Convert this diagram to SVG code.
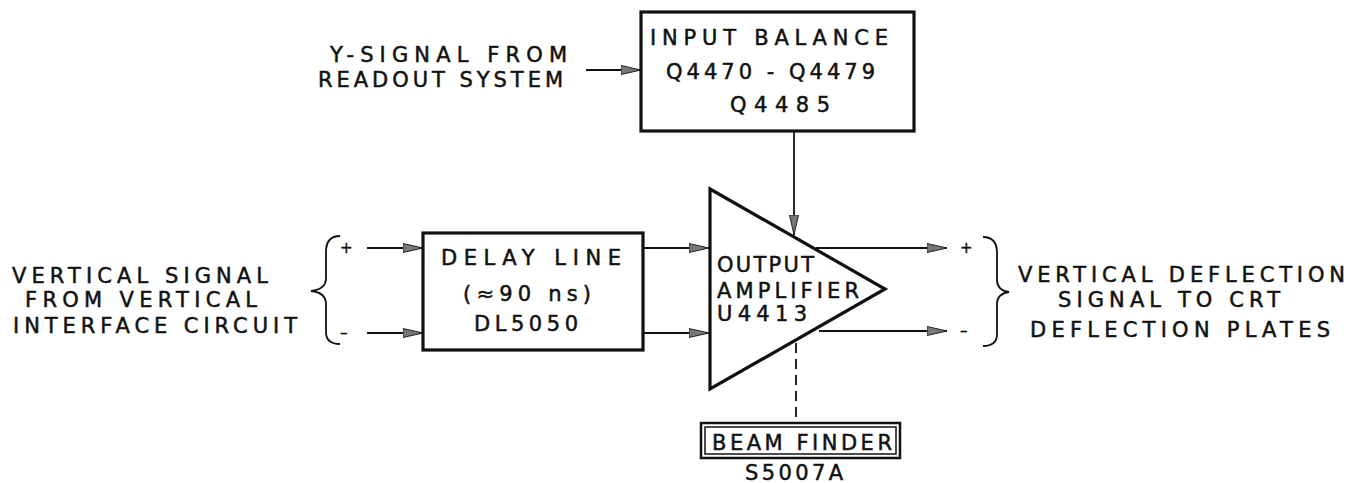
<svg xmlns="http://www.w3.org/2000/svg" width="1358" height="483" viewBox="0 0 1358 483">
<defs>
<style>
.lbl{font-family:"DejaVu Sans","Liberation Sans",sans-serif;font-size:21px;fill:#111;stroke:#111;stroke-width:0.5;}
.box{fill:#fff;stroke:#111;stroke-width:3.2;}
.ln{fill:none;stroke:#111;stroke-width:1.8;}
.sgn{font-family:"DejaVu Sans","Liberation Sans",sans-serif;font-size:15px;fill:#111;stroke:#111;stroke-width:0.4;}
</style>
<marker id="ah" viewBox="0 0 20 10" refX="20" refY="5" markerWidth="20" markerHeight="10" markerUnits="userSpaceOnUse" orient="auto">
<path d="M0,0.5 L20,5 L0,9.5 Z" fill="#777" stroke="#222" stroke-width="1"/>
</marker>
</defs>
<rect width="1358" height="483" fill="#fff"/>

<g id="connectors">
<line class="ln" x1="586" y1="70" x2="641" y2="70" marker-end="url(#ah)"/>
<line class="ln" x1="794" y1="132" x2="794" y2="235" marker-end="url(#ah)"/>
<line class="ln" x1="367" y1="248" x2="423" y2="248" marker-end="url(#ah)"/>
<line class="ln" x1="367" y1="333" x2="423" y2="333" marker-end="url(#ah)"/>
<line class="ln" x1="643" y1="248" x2="709" y2="248" marker-end="url(#ah)"/>
<line class="ln" x1="643" y1="333" x2="709" y2="333" marker-end="url(#ah)"/>
<line class="ln" x1="816" y1="248" x2="947" y2="248" marker-end="url(#ah)"/>
<line class="ln" x1="819" y1="331" x2="947" y2="331" marker-end="url(#ah)"/>
<line class="ln" x1="796" y1="343" x2="796" y2="423" stroke-dasharray="10,6"/>
</g>

<g id="y-signal-label">
<text class="lbl" x="330" y="62" textLength="237" lengthAdjust="spacing">Y-SIGNAL  FROM</text>
<text class="lbl" x="318" y="87" textLength="245" lengthAdjust="spacing">READOUT SYSTEM</text>
</g>

<g id="input-balance">
<rect class="box" x="641" y="12" width="273" height="119"/>
<text class="lbl" x="650" y="45" textLength="238" lengthAdjust="spacing">INPUT  BALANCE</text>
<text class="lbl" x="666" y="79" textLength="209" lengthAdjust="spacing">Q4470 - Q4479</text>
<text class="lbl" x="730" y="112" textLength="100" lengthAdjust="spacing">Q4485</text>
</g>

<g id="left-label">
<text class="lbl" x="12" y="283" textLength="256" lengthAdjust="spacing">VERTICAL  SIGNAL</text>
<text class="lbl" x="25" y="307" textLength="232" lengthAdjust="spacing">FROM  VERTICAL</text>
<text class="lbl" x="13" y="333" textLength="284" lengthAdjust="spacing">INTERFACE CIRCUIT</text>
<path class="ln" stroke-width="2.2" d="M340,236 C330,236 326,242 326,252 L326,278 C326,286 320,290 311,291 C320,292 326,296 326,304 L326,332 C326,340 330,344 340,344"/>
<text class="sgn" x="340" y="253">+</text>
<text class="sgn" x="340" y="338">–</text>
</g>

<g id="delay-line">
<rect class="box" x="423" y="233" width="220" height="117"/>
<text class="lbl" x="441" y="265" textLength="180" lengthAdjust="spacing">DELAY  LINE</text>
<text class="lbl" x="463" y="301" textLength="128" lengthAdjust="spacing">(≈90 ns)</text>
<text class="lbl" x="474" y="331" textLength="104" lengthAdjust="spacing">DL5050</text>
</g>

<g id="output-amplifier">
<polygon points="710,189 885,289 710,389" fill="#fff" stroke="#111" stroke-width="3.2" stroke-linejoin="miter"/>
<text class="lbl" x="717" y="272" font-size="19" textLength="97" lengthAdjust="spacing">OUTPUT</text>
<text class="lbl" x="717" y="298" font-size="19" textLength="142" lengthAdjust="spacing">AMPLIFIER</text>
<text class="lbl" x="717" y="321" font-size="19" textLength="90" lengthAdjust="spacing">U4413</text>
</g>

<g id="right-label">
<text class="sgn" x="960" y="253">+</text>
<text class="sgn" x="960" y="336">–</text>
<path class="ln" stroke-width="2.2" d="M983,237 C993,237 997,243 997,253 L997,280 C997,287 1002,291 1009,292 C1002,293 997,297 997,304 L997,334 C997,342 993,346 983,346"/>
<text class="lbl" x="1018" y="282" textLength="327" lengthAdjust="spacing">VERTICAL  DEFLECTION</text>
<text class="lbl" x="1058" y="307" textLength="222" lengthAdjust="spacing">SIGNAL  TO  CRT</text>
<text class="lbl" x="1030" y="337" textLength="300" lengthAdjust="spacing">DEFLECTION  PLATES</text>
</g>

<g id="beam-finder">
<rect x="701" y="423" width="199" height="35" fill="#fff" stroke="#111" stroke-width="2.5"/>
<rect x="705" y="427" width="191" height="27" fill="none" stroke="#111" stroke-width="1.5"/>
<text class="lbl" x="712" y="450" font-size="21" textLength="180" lengthAdjust="spacing">BEAM FINDER</text>
<text class="lbl" x="745" y="480" textLength="98" lengthAdjust="spacing">S5007A</text>
</g>
</svg>
